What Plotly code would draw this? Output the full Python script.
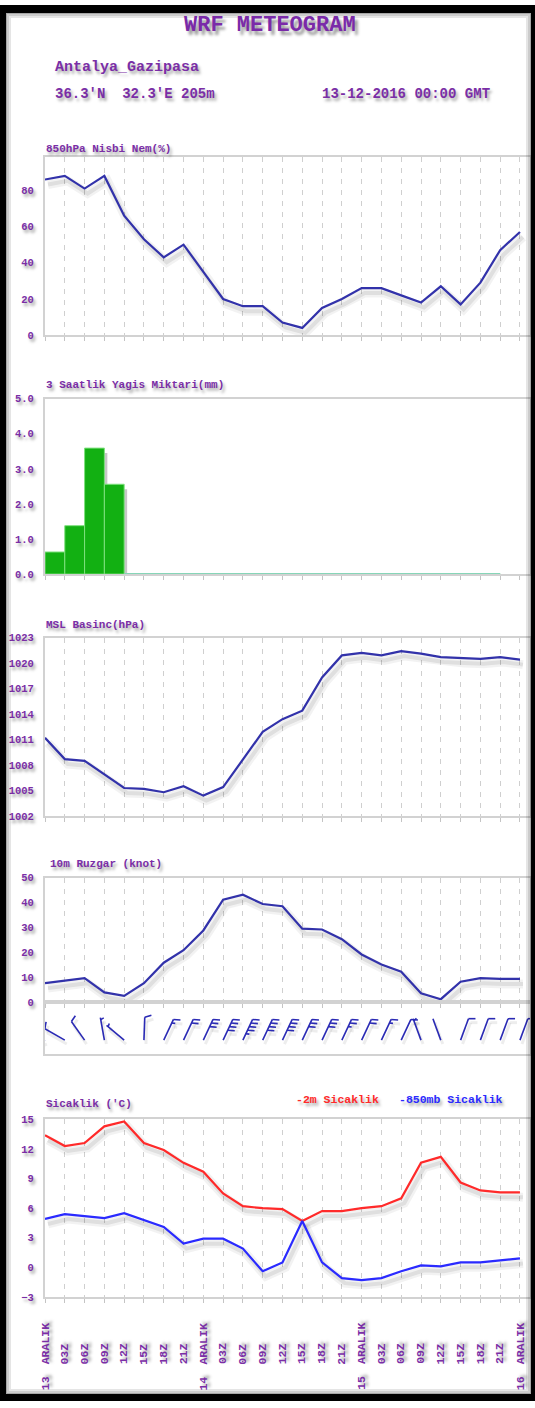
import math
import plotly.graph_objects as go

# ---------------- data (3-hourly, 13-12-2016 00Z .. 16-12-2016 00Z) ----------------
steps = list(range(25))
hour_labels = ["ARALIK", "03Z", "06Z", "09Z", "12Z", "15Z", "18Z", "21Z"] * 3 + ["ARALIK"]
day_steps = [0, 8, 16, 24]
day_labels = ["13", "14", "15", "16"]

rh850 = [86, 88, 81, 88, 66, 53, 43, 50, 35, 20, 16, 16, 7, 4, 15, 20, 26, 26, 22, 18, 27, 17, 29, 47, 57]
precip = [0.63, 1.38, 3.59, 2.56] + [0.0] * 19          # one value per 3-h interval
mslp = [1011.2, 1008.7, 1008.5, 1006.9, 1005.3, 1005.2, 1004.8, 1005.5, 1004.4, 1005.4,
        1008.6, 1011.9, 1013.4, 1014.4, 1018.3, 1020.9, 1021.2, 1020.9, 1021.4, 1021.1,
        1020.7, 1020.6, 1020.5, 1020.7, 1020.4]
wspd = [7.7, 8.6, 9.7, 4.0, 2.6, 7.7, 15.9, 20.9, 28.8, 41.1, 43.1, 39.4, 38.5, 29.5, 29.2,
        25.3, 19.2, 15.2, 12.3, 3.7, 1.3, 8.3, 9.7, 9.4, 9.4]
wdir = [250, 300, 325, 350, 310, 2, 25, 25, 25, 25, 25, 25, 25, 25, 25, 25, 25, 25, 25,
        340, 340, 20, 20, 20, 20]
t2m = [13.4, 12.3, 12.6, 14.3, 14.8, 12.6, 11.9, 10.6, 9.7, 7.5, 6.2, 6.0, 5.9, 4.7, 5.7,
       5.7, 6.0, 6.2, 7.0, 10.6, 11.2, 8.6, 7.8, 7.6, 7.6]
t850 = [4.9, 5.4, 5.2, 5.0, 5.5, 4.8, 4.1, 2.4, 2.9, 2.9, 1.9, -0.4, 0.5, 4.7, 0.5, -1.1,
        -1.3, -1.1, -0.4, 0.2, 0.1, 0.5, 0.5, 0.7, 0.9]

# ---------------- layout constants ----------------
W, H = 535, 1408
X0, X1 = 45, 530
PXS = 19.79                      # px per 3-h step
XMAX = (X1 - X0) / PXS
PURPLE = "#7a2ea6"
FONT = "Liberation Mono"
TSHADOW = "2px 3px 3px rgba(0,0,0,0.35)"
FRAME = "#d2d2d2"
LINE = "#3232aa"
SH_DX, SH_DY = 3, 5              # line shadow offset in px


def ydom(top, bottom):
    return [1 - bottom / H, 1 - top / H]


def px(x):
    return x / W


def py(y):
    return 1 - y / H


fig = go.Figure()
layout = dict(
    width=W, height=H, margin=dict(l=0, r=0, t=0, b=0),
    paper_bgcolor="white", plot_bgcolor="white", showlegend=False,
)

panels = [
    # id, top, bottom, yrange, tickvals, fmt, grid
    (1, 153, 333, [0, 98.6], [0, 20, 40, 60, 80], "d", True),
    (2, 397, 574, [0, 5], [0, 1, 2, 3, 4, 5], ".1f", False),
    (3, 638, 818, [1002, 1023], list(range(1002, 1024, 3)), "d", True),
    (4, 880, 1006, [0, 50], [0, 10, 20, 30, 40, 50], "d", True),
    (5, 1124, 1303, [-3, 15], list(range(-3, 16, 3)), "d", True),
]

tickfont = dict(family=FONT, size=10.5, color=PURPLE, weight="bold", shadow=TSHADOW)
for pid, top, bot, yr, tv, fmt, grid in panels:
    dom = ydom(top, bot)
    ppu = (bot - top) / (yr[1] - yr[0])
    sx = SH_DX / PXS
    sy = SH_DY / ppu
    # base (shadow) axes: same scales, shifted by a few pixels
    layout[f"xaxis{pid}"] = dict(domain=[px(X0), px(X1)], range=[-sx, XMAX - sx], anchor=f"y{pid}",
                                 visible=False, fixedrange=True)
    layout[f"yaxis{pid}"] = dict(domain=dom, range=[yr[0] + sy, yr[1] + sy], anchor=f"x{pid}",
                                 visible=False, fixedrange=True)
    m = pid + 5
    layout[f"xaxis{m}"] = dict(
        overlaying=f"x{pid}", range=[0, XMAX], anchor=f"y{m}",
        tickvals=steps, showticklabels=False, ticks="outside", ticklen=4, tickcolor="#c4c4c4",
        showgrid=grid, gridcolor="#cfcfcf", griddash="5px,6px", gridwidth=1,
        showline=True, linecolor=FRAME, linewidth=2, mirror=True, zeroline=False)
    layout[f"yaxis{m}"] = dict(
        overlaying=f"y{pid}", range=yr, anchor=f"x{m}", tickvals=tv, tickformat=fmt,
        tickfont=tickfont, ticks="", ticklabelstandoff=7, showgrid=False, zeroline=False,
        showline=True, linecolor=FRAME, linewidth=2, mirror=True)

# wind barb strip below the wind-speed panel
layout["xaxis11"] = dict(domain=[px(X0), px(X1)], range=[0, XMAX], anchor="y11", showticklabels=False,
                         ticks="", showgrid=False, zeroline=False, showline=True, linecolor=FRAME,
                         linewidth=2, mirror=True)
layout["yaxis11"] = dict(domain=ydom(1006, 1058), range=[0, 52], anchor="x11", showticklabels=False,
                         ticks="", showgrid=False, zeroline=False, showline=True, linecolor=FRAME,
                         linewidth=2, mirror=True)


def line_pair(y, pid, color, width=2.2):
    fig.add_trace(go.Scatter(x=steps, y=y, mode="lines", line=dict(color="rgba(0,0,0,0.05)", width=9),
                             xaxis=f"x{pid}", yaxis=f"y{pid}", hoverinfo="skip"))
    fig.add_trace(go.Scatter(x=steps, y=y, mode="lines", line=dict(color="rgba(0,0,0,0.08)", width=4),
                             xaxis=f"x{pid}", yaxis=f"y{pid}", hoverinfo="skip"))
    fig.add_trace(go.Scatter(x=steps, y=y, mode="lines", line=dict(color=color, width=width),
                             xaxis=f"x{pid + 5}", yaxis=f"y{pid + 5}"))


line_pair(rh850, 1, LINE)
line_pair(mslp, 3, LINE)
line_pair(wspd, 4, LINE)
line_pair(t2m, 5, "#ff2a2a")
line_pair(t850, 5, "#2a2aff")

# precipitation bars (each bar spans one 3-h interval)
bar_x = [k + 0.5 for k in range(len(precip))]
fig.add_trace(go.Bar(x=bar_x, y=precip, width=1, marker=dict(color="rgba(0,0,0,0.22)", line=dict(width=0)),
                     xaxis="x2", yaxis="y2", hoverinfo="skip"))
fig.add_trace(go.Bar(x=bar_x, y=precip, width=1,
                     marker=dict(color="#12b012", line=dict(color="#7ee07e", width=1)),
                     xaxis="x7", yaxis="y7"))
zero_x = []
for k, v in enumerate(precip):
    if v == 0:
        zero_x += [k, k + 1]
fig.add_trace(go.Scatter(x=zero_x, y=[0] * len(zero_x), mode="lines",
                         line=dict(color="#86d6b8", width=2), xaxis="x7", yaxis="y7"))

# wind barbs (built in pixel space, converted to axis units)
bx, by = [], []
L, LB, SP, BASE = 23, 7, 4, 14
for i, (s, d) in enumerate(zip(wspd, wdir)):
    th = math.radians(d)
    ux, uy = math.sin(th), math.cos(th)
    vth = math.radians(d + 70)
    vx, vy = math.sin(vth), math.cos(vth)
    tx, ty = L * ux, BASE + L * uy
    segs = [((0, BASE), (tx, ty))]
    kn = int(round(s / 5.0)) * 5
    nfull, half = divmod(kn, 10)
    pos = 0
    for _ in range(nfull):
        sx, sy = tx - pos * ux, ty - pos * uy
        segs.append(((sx, sy), (sx + LB * vx, sy + LB * vy)))
        pos += SP
    if half:
        if nfull == 0:
            pos = 2
        sx, sy = tx - pos * ux, ty - pos * uy
        segs.append(((sx, sy), (sx + LB * 0.5 * vx, sy + LB * 0.5 * vy)))
    for (a, b) in segs:
        bx += [i + a[0] / PXS, i + b[0] / PXS, None]
        by += [a[1], b[1], None]
fig.add_trace(go.Scatter(x=[v + 2 / PXS if v is not None else None for v in bx],
                         y=[v - 4 if v is not None else None for v in by], mode="lines",
                         line=dict(color="rgba(0,0,0,0.07)", width=3), xaxis="x11", yaxis="y11",
                         hoverinfo="skip"))
fig.add_trace(go.Scatter(x=bx, y=by, mode="lines", line=dict(color="#2a2ab4", width=1.6),
                         xaxis="x11", yaxis="y11"))

# ---------------- texts ----------------
ann = []


def text(t, x, y, size, color=PURPLE, xanchor="left", shadow=TSHADOW):
    ann.append(dict(text=t, x=px(x), y=py(y), xref="paper", yref="paper", showarrow=False,
                    xanchor=xanchor, yanchor="middle",
                    font=dict(family=FONT, size=size, color=color, weight="bold", shadow=shadow)))


text("WRF METEOGRAM", 270, 21, 22, color="#7a2aa8", xanchor="center", shadow="3px 4px 3px rgba(0,0,0,0.4)")
text("Antalya_Gazipasa", 53, 63, 15)
text("36.3'N  32.3'E 205m", 53, 90, 14)
text("13-12-2016 00:00 GMT", 320, 90, 14)
text("850hPa Nisbi Nem(%)", 44, 145, 11)
text("3 Saatlik Yagis Miktari(mm)", 44, 383, 11)
text("MSL Basinc(hPa)", 44, 625, 11)
text("10m Ruzgar (knot)", 48, 866, 11)
text("Sicaklik ('C)", 44, 1108, 11)
text("-2m Sicaklik", 294, 1104, 11.5, color="#ff2a2a")
text("-850mb Sicaklik", 397, 1104, 11.5, color="#2a2aff")

xl_font = dict(family=FONT, size=11.5, color=PURPLE, weight="bold", shadow=TSHADOW)
for i, lab in zip(steps, hour_labels):
    ann.append(dict(text=lab, x=i, xref="x10", y=py(1373), yref="paper", textangle=-90,
                    showarrow=False, xanchor="center", yanchor="bottom", font=xl_font))
for i, lab in zip(day_steps, day_labels):
    ann.append(dict(text=lab, x=i, xref="x10", y=py(1381), yref="paper", textangle=-90,
                    showarrow=False, xanchor="center", yanchor="top", font=xl_font))
layout["annotations"] = ann

# black outer frame with inner shade
shapes = []
for (x0, y0, x1, y1) in [(0, 0, 6, H), (531, 0, W, H), (0, 0, W, 8), (0, 1401, W, H)]:
    shapes.append(dict(type="rect", xref="paper", yref="paper", x0=px(x0), x1=px(x1), y0=py(y1), y1=py(y0),
                       fillcolor="black", line=dict(width=0), layer="above"))
for k, a in enumerate([0.35, 0.2, 0.1]):
    shapes.append(dict(type="rect", xref="paper", yref="paper", x0=px(6 + 2 * k), x1=px(531 - 2 * k),
                       y0=py(1401 - 2 * k), y1=py(8 + 2 * k), fillcolor="rgba(0,0,0,0)",
                       line=dict(color=f"rgba(0,0,0,{a})", width=2), layer="above"))
layout["shapes"] = shapes

fig.update_layout(**layout)
fig.write_html("out.html", config={"displayModeBar": False},
               post_script="document.body.style.margin='0';"
                           "document.documentElement.style.overflow='hidden';")
